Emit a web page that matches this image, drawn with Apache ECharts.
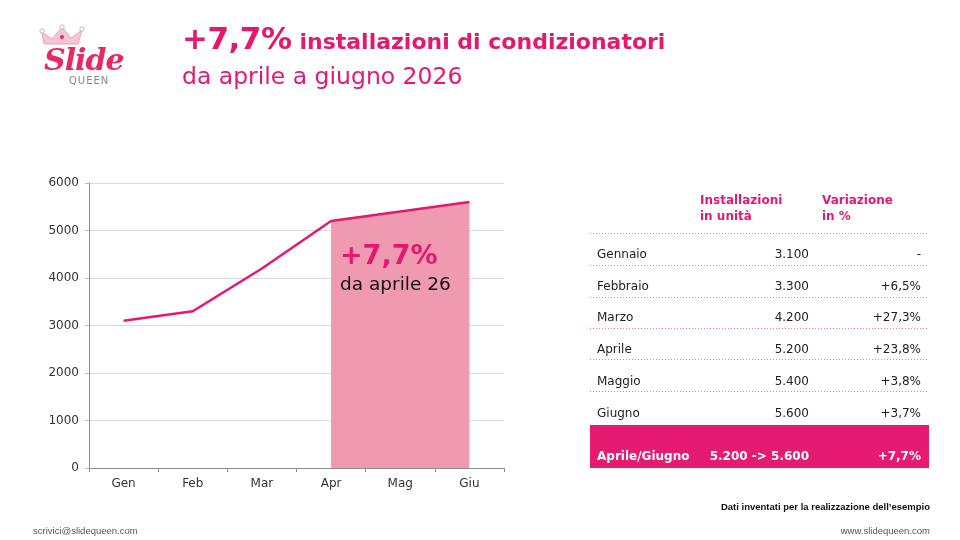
<!DOCTYPE html>
<html>
<head>
<meta charset="utf-8">
<script src="https://cdn.jsdelivr.net/npm/echarts@6/dist/echarts.min.js"></script>
<style>
  html, body { margin: 0; padding: 0; background: #fff; }
  #page { position: relative; width: 960px; height: 540px; overflow: hidden; font-family: "DejaVu Sans", sans-serif; }
  #chart { position: absolute; left: 0; top: 0; width: 960px; height: 540px; }
  .abs { position: absolute; white-space: nowrap; }
  .pink { color: #e5186e; }
  #title1 .big { font-size: 31px; letter-spacing: -0.5px; }
  #title1 .rest { font-size: 22px; margin-left: 8px; }
  #title2 { left: 182px; top: 62px; font-size: 23.5px; }
  .logo-s { left: 44px; top: 42px; font-family: "DejaVu Serif", serif; font-style: italic; font-weight: bold; font-size: 30px; color: #e8285f; letter-spacing: -1px; }
  .logo-q { left: 69px; top: 75px; font-size: 10px; color: #888; letter-spacing: 1px; }
  .th { font-size: 12px; font-weight: bold; color: #e5186e; line-height: 16px; }
  .row { font-size: 12px; color: #222; }
  .dots { position: absolute; left: 590px; width: 338px; height: 1px;
          background-image: linear-gradient(to right, #ee7aa4 50%, rgba(255,255,255,0) 50%);
          background-size: 3px 1px; background-repeat: repeat-x; }
  #total { position: absolute; left: 590px; top: 425px; width: 339px; height: 43px; background: #e51b72; }
  .tot { font-size: 12px; font-weight: bold; color: #fff; }
  .foot { font-family: "Liberation Sans Narrow", "Liberation Sans", sans-serif; font-size: 9.5px; color: #333; }
</style>
</head>
<body>
<div id="page">
  <div id="chart"></div>
  <svg class="abs" style="left:38px;top:24px" width="50" height="26" viewBox="0 0 50 26">
    <path d="M6 20 L4 8 L14 15 L24 3 L33 14 L44 6 L40 20 Z" fill="#f6c6d6" stroke="#e9a3ba" stroke-width="1"/>
    <circle cx="4" cy="7" r="2.2" fill="#fff" stroke="#aaa" stroke-width="0.8"/>
    <circle cx="24" cy="3" r="2.2" fill="#fff" stroke="#aaa" stroke-width="0.8"/>
    <circle cx="44" cy="5" r="2.2" fill="#fff" stroke="#aaa" stroke-width="0.8"/>
    <circle cx="24" cy="13" r="2" fill="#e8285f"/>
  </svg>
</div>
<script>
// dati del grafico
const months = ['Gen', 'Feb', 'Mar', 'Apr', 'Mag', 'Giu']
const units = [3100, 3300, 4200, 5200, 5400, 5600]
const shaded = [null, null, null, 5200, 5400, 5600]
const yTicks = [0, 1000, 2000, 3000, 4000, 5000, 6000]

// dati della tabella
const rowNames = ['Gennaio', 'Febbraio', 'Marzo', 'Aprile', 'Maggio', 'Giugno']
const rowUnits = ['3.100', '3.300', '4.200', '5.200', '5.400', '5.600']
const rowVar = ['-', '+6,5%', '+27,3%', '+23,8%', '+3,8%', '+3,7%']
const totalRow = ['Aprile/Giugno', '5.200 -> 5.600', '+7,7%']

const pink = '#e5186e'
const page = document.getElementById('page')

const addText = (html, cls, style) => {
  const d = document.createElement('div')
  d.className = 'abs ' + cls
  d.innerHTML = html
  Object.assign(d.style, style)
  page.appendChild(d)
  return d
}

// titolo e logo
addText('<span class="big">+7,7%</span><span class="rest">installazioni di condizionatori</span>', 'pink', { left: '182px', top: '20px', fontWeight: 'bold' }).id = 'title1'
addText('da aprile a giugno 2026', 'pink', {}).id = 'title2'
addText('Slide', 'logo-s', {})
addText('QUEEN', 'logo-q', {})

// tabella
addText('Installazioni<br>in unità', 'th', { left: '700px', top: '192px' })
addText('Variazione<br>in %', 'th', { left: '822px', top: '192px' })
const lineY = [233, 265, 297, 328, 359, 391]
lineY.forEach(y => {
  const d = document.createElement('div')
  d.className = 'dots'
  d.style.top = y + 'px'
  page.appendChild(d)
})
const rowY = [254, 286, 317, 349, 381, 413]
rowNames.forEach((name, i) => {
  const top = (rowY[i] - 7) + 'px'
  addText(name, 'row', { left: '597px', top })
  addText(rowUnits[i], 'row', { right: (960 - 809) + 'px', top })
  addText(rowVar[i], 'row', { right: (960 - 921) + 'px', top })
})
const tot = document.createElement('div')
tot.id = 'total'
page.appendChild(tot)
addText(totalRow[0], 'tot', { left: '597px', top: '449px' })
addText(totalRow[1], 'tot', { right: (960 - 809) + 'px', top: '449px' })
addText(totalRow[2], 'tot', { right: (960 - 921) + 'px', top: '449px' })

// piè di pagina
addText('<b>Dati inventati per la realizzazione dell’esempio</b>', 'foot', { right: '30px', top: '501px', color: '#111' })
addText('scrivici@slidequeen.com', 'foot', { left: '33px', top: '525px', color: '#555' })
addText('www.slidequeen.com', 'foot', { right: '30px', top: '525px', color: '#555' })

const chart = echarts.init(document.getElementById('chart'), null, { renderer: 'canvas' })
chart.setOption({
  animation: false,
  grid: { left: 89, right: 456, top: 183, bottom: 72, containLabel: false },
  xAxis: {
    type: 'category',
    data: months,
    boundaryGap: true,
    axisLine: { lineStyle: { color: '#8c8c8c', width: 1 } },
    axisTick: { show: true, length: 4, lineStyle: { color: '#8c8c8c' } },
    axisLabel: { color: '#333', fontSize: 12, margin: 10, fontFamily: 'DejaVu Sans' }
  },
  yAxis: {
    type: 'value',
    min: yTicks[0],
    max: yTicks[yTicks.length - 1],
    interval: 1000,
    axisLine: { show: true, lineStyle: { color: '#8c8c8c', width: 1 } },
    axisTick: { show: true, length: 4, lineStyle: { color: '#bbb' } },
    splitLine: { lineStyle: { color: '#dcdcdc' } },
    axisLabel: { color: '#333', fontSize: 12, margin: 10, fontFamily: 'DejaVu Sans', formatter: v => String(v) }
  },
  series: [
    {
      type: 'line',
      data: shaded,
      symbol: 'none',
      lineStyle: { width: 0 },
      areaStyle: { color: '#f09ab2', opacity: 1 },
      z: 1
    },
    {
      type: 'line',
      data: units,
      symbol: 'none',
      lineStyle: { color: pink, width: 2.5 },
      z: 3
    }
  ],
  graphic: [
    {
      type: 'text', left: 340, top: 243, z: 10,
      style: { text: '+7,7%', fill: pink, font: 'bold 27px "DejaVu Sans"' }
    },
    {
      type: 'text', left: 340, top: 276, z: 10,
      style: { text: 'da aprile 26', fill: '#111', font: '18.5px "DejaVu Sans"' }
    }
  ]
})
</script>
</body>
</html>
